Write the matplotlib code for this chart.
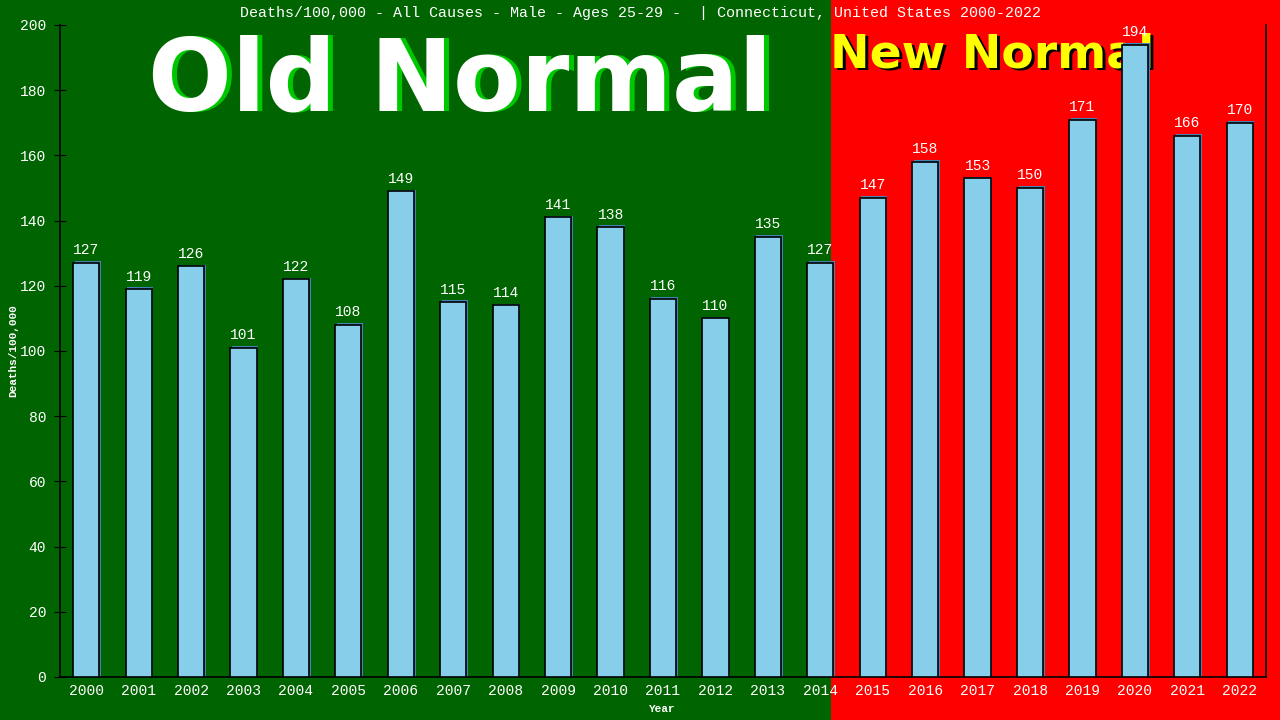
import matplotlib
matplotlib.use("Agg")
import matplotlib.pyplot as plt
import matplotlib.patches as patches

years = list(range(2000, 2023))
deaths = [127, 119, 126, 101, 122, 108, 149, 115, 114, 141, 138, 116,
          110, 135, 127, 147, 158, 153, 150, 171, 194, 166, 170]
y_ticks = [0, 20, 40, 60, 80, 100, 120, 140, 160, 180, 200]

title = ("Deaths/100,000 - All Causes - Male - Ages 25-29 -  | "
         "Connecticut, United States 2000-2022")

GREEN = "#006400"
RED = "#ff0000"
BAR = "#87ceeb"
MONO = ["Liberation Mono", "DejaVu Sans Mono"]
W, H = 1280, 720

fig = plt.figure(figsize=(12.8, 7.2), dpi=100)
fig.patch.set_facecolor(GREEN)

# red "new normal" part of the figure, behind everything
fig.patches.append(patches.Rectangle((831 / W, 0), 1 - 831 / W, 1,
                                     transform=fig.transFigure,
                                     facecolor=RED, zorder=-10))

# big overlay words with shadows, drawn behind the bars
big = dict(family="DejaVu Sans", fontweight="bold", zorder=-5)
fig.text((460 + 5) / W, 1 - 111 / H, "Old Normal", ha="center",
         va="baseline", fontsize=71, color="#00c800", **big)
fig.text(460 / W, 1 - 110 / H, "Old Normal", ha="center", va="baseline",
         fontsize=71, color="white", **big)
fig.text((830 + 3) / W, 1 - 70 / H, "New Normal", ha="left", va="baseline",
         fontsize=34, color="black", **big)
fig.text(830 / W, 1 - 67 / H, "New Normal", ha="left", va="baseline",
         fontsize=34, color="#ffff00", **big)

ax = fig.add_axes([60 / W, 43 / H, 1206 / W, 652 / H])
ax.patch.set_alpha(0)

# shadow bars, then main bars
ax.bar([y + 0.03 for y in years], [d + 0.5 for d in deaths], width=0.5,
       color="#4682b4", zorder=2)
ax.bar(years, deaths, width=0.5, color=BAR, edgecolor="black",
       linewidth=1.2, zorder=3)

for yr, d in zip(years, deaths):
    ax.annotate(str(d), (yr, d), xytext=(0, 4), textcoords="offset points",
                ha="center", va="bottom", color="white", fontsize=10.5,
                family=MONO, zorder=4)

ax.set_xlim(1999.5, 2022.5)
ax.set_ylim(0, 200)
ax.set_xticks(years)
ax.set_xticklabels([str(y) for y in years], family=MONO, fontsize=10.5,
                   color="white")
ax.set_yticks(y_ticks)
ax.set_yticklabels([str(t) for t in y_ticks], family=MONO, fontsize=10.5,
                   color="white")
ax.tick_params(axis="x", length=0, pad=5)
ax.tick_params(axis="y", direction="inout", length=8, color="black", pad=6)
ax.spines["top"].set_visible(False)
for s in ("left", "bottom", "right"):
    ax.spines[s].set_color("black")
    ax.spines[s].set_linewidth(1.2)

fig.text(13 / W, 1 - 351 / H, "Deaths/100,000", rotation=90, ha="center",
         va="center", family=MONO, fontsize=8, fontweight="bold",
         color="white")
fig.text(661 / W, 1 - 709 / H, "Year", ha="center", va="center",
         family=MONO, fontsize=8, fontweight="bold", color="white")

fig.text(640 / W, 1 - 13 / H, title, ha="center", va="center",
         color="white", fontsize=10.8, family=MONO)

fig.savefig("out.png", dpi=100, facecolor=fig.get_facecolor())
